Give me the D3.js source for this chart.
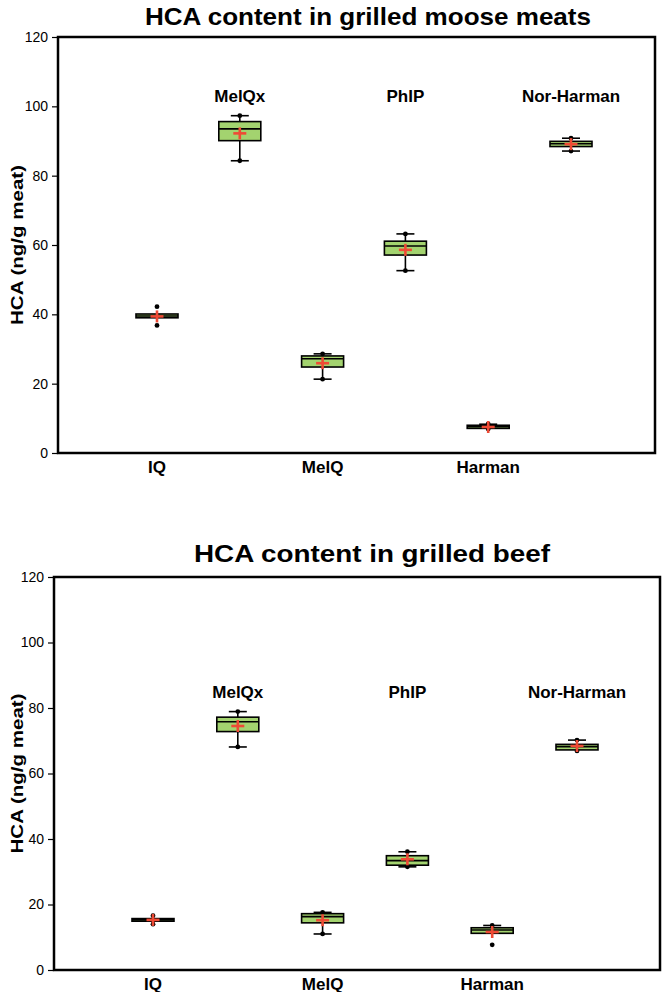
<!DOCTYPE html>
<html><head><meta charset="utf-8">
<script src="https://cdn.jsdelivr.net/npm/d3@7/dist/d3.min.js"></script>
<style>body{margin:0;background:#fff}svg{display:block}text{font-family:"Liberation Sans",Arial,sans-serif}</style>
</head><body><svg id="c" width="664" height="992"></svg>
<script>
// ---- data ----
const categories = ["IQ","MelQx","MelQ","PhIP","Harman","Nor-Harman"];
const labelSide  = ["bottom","top","bottom","top","bottom","top"];
const yTicks = [0,20,40,60,80,100,120];

// moose
const mooseLow    = [39.0, 84.3, 21.3, 52.6, 7.1, 87.1];
const mooseQ1     = [39.0, 90.1, 24.8, 57.1, 7.1, 88.4];
const mooseMedian = [39.5, 93.5, 27.2, 59.7, 7.6, 89.2];
const mooseQ3     = [40.1, 95.6, 28.0, 61.1, 8.0, 89.9];
const mooseHigh   = [40.1, 97.3, 28.6, 63.2, 8.3, 90.8];
const mooseMean   = [39.4, 92.2, 25.9, 58.6, 7.5, 89.1];
const mooseMin    = [36.8, 84.3, 21.3, 52.6, 6.9, 87.1];
const mooseMax    = [42.2, 97.3, 28.6, 63.2, 8.4, 90.8];

// beef
const beefLow    = [14.9, 68.1, 11.0, 31.5, 11.2, 67.2];
const beefQ1     = [14.9, 72.8, 14.4, 32.0, 11.2, 67.2];
const beefMedian = [15.3, 75.8, 16.3, 33.4, 12.2, 68.2];
const beefQ3     = [15.7, 77.2, 17.2, 34.9, 12.9, 68.9];
const beefHigh   = [15.7, 78.9, 17.6, 36.1, 13.6, 70.2];
const beefMean   = [15.3, 74.5, 15.2, 33.8, 11.6, 68.4];
const beefMin    = [14.0, 68.1, 11.0, 31.5, 7.7, 66.9];
const beefMax    = [16.6, 78.9, 17.6, 36.1, 13.6, 70.2];

const titles = ["HCA content in grilled moose meats","HCA content in grilled beef"];
const yLabel = "HCA (ng/g  meat)";

// ---- layout ----
const panels = [
  {title:titles[0], L:58, R:655, T:37, B:453, titleY:25, titleX:368, titleW:446,
   topLabY:102, xr:[157,571],
   low:mooseLow,q1:mooseQ1,med:mooseMedian,q3:mooseQ3,high:mooseHigh,mean:mooseMean,mn:mooseMin,mx:mooseMax},
  {title:titles[1], L:54, R:660, T:577, B:970, titleY:562, titleX:372, titleW:356,
   topLabY:698, xr:[153,577],
   low:beefLow,q1:beefQ1,med:beefMedian,q3:beefQ3,high:beefHigh,mean:beefMean,mn:beefMin,mx:beefMax}
];

const svg = d3.select("#c");
svg.append("rect").attr("width",664).attr("height",992).attr("fill","#fff");

const boxFill = "#a3d36f", meanCol = "#ef4a35";
const boxW = 42, capW = 18;

panels.forEach(p => {
  const g = svg.append("g");
  const x = d3.scalePoint().domain(categories).range(p.xr);
  const y = d3.scaleLinear().domain([0,120]).range([p.B,p.T]);

  // title
  g.append("text").attr("x",p.titleX).attr("y",p.titleY).attr("text-anchor","middle")
    .attr("font-size",24).attr("font-weight","bold")
    .attr("textLength",p.titleW).attr("lengthAdjust","spacingAndGlyphs").text(p.title);

  // y axis
  const ax = g.append("g").attr("transform",`translate(${p.L},0)`)
    .call(d3.axisLeft(y).tickValues(yTicks).tickSize(6).tickPadding(4));
  ax.select(".domain").remove();
  ax.selectAll(".tick line").attr("stroke","#000").attr("stroke-width",1.2);
  ax.selectAll(".tick text").attr("font-size",14).attr("fill","#000")
    .attr("font-family","'Liberation Sans',Arial,sans-serif");

  // frame
  g.append("rect").attr("x",p.L).attr("y",p.T).attr("width",p.R-p.L).attr("height",p.B-p.T)
    .attr("fill","none").attr("stroke","#000").attr("stroke-width",2.5);

  // y label
  g.append("text").attr("transform",`translate(23,${(p.T+p.B)/2}) rotate(-90)`)
    .attr("text-anchor","middle").attr("font-size",17).attr("font-weight","bold")
    .attr("textLength",160).attr("lengthAdjust","spacingAndGlyphs").text(yLabel);

  const rows = categories.map((c,i)=>({c,i,side:labelSide[i],low:p.low[i],q1:p.q1[i],med:p.med[i],
    q3:p.q3[i],high:p.high[i],mean:p.mean[i],mn:p.mn[i],mx:p.mx[i]}));

  // category labels
  g.selectAll(".cl").data(rows).join("text")
    .attr("x",d=>x(d.c)).attr("y",d=>d.side==="top"?p.topLabY:p.B+20)
    .attr("text-anchor","middle").attr("font-size",17).attr("font-weight","bold")
    .text(d=>d.c);

  const b = g.selectAll(".bx").data(rows).join("g");
  // whisker lines
  b.append("line").attr("x1",d=>x(d.c)).attr("x2",d=>x(d.c))
    .attr("y1",d=>y(d.low)).attr("y2",d=>y(d.q1)).attr("stroke","#000").attr("stroke-width",1.6);
  b.append("line").attr("x1",d=>x(d.c)).attr("x2",d=>x(d.c))
    .attr("y1",d=>y(d.high)).attr("y2",d=>y(d.q3)).attr("stroke","#000").attr("stroke-width",1.6);
  // caps
  b.filter(d=>d.low<d.q1).append("line").attr("x1",d=>x(d.c)-capW/2).attr("x2",d=>x(d.c)+capW/2)
    .attr("y1",d=>y(d.low)).attr("y2",d=>y(d.low)).attr("stroke","#000").attr("stroke-width",1.6);
  b.filter(d=>d.high>d.q3).append("line").attr("x1",d=>x(d.c)-capW/2).attr("x2",d=>x(d.c)+capW/2)
    .attr("y1",d=>y(d.high)).attr("y2",d=>y(d.high)).attr("stroke","#000").attr("stroke-width",1.6);
  // box
  b.append("rect").attr("x",d=>x(d.c)-boxW/2).attr("width",boxW)
    .attr("y",d=>y(d.q3)).attr("height",d=>Math.max(0.5,y(d.q1)-y(d.q3)))
    .attr("fill",boxFill).attr("stroke","#000").attr("stroke-width",1.6);
  // median
  b.append("line").attr("x1",d=>x(d.c)-boxW/2).attr("x2",d=>x(d.c)+boxW/2)
    .attr("y1",d=>y(d.med)).attr("y2",d=>y(d.med)).attr("stroke","#000").attr("stroke-width",1.6);
  // min / max points
  b.append("circle").attr("cx",d=>x(d.c)).attr("cy",d=>y(d.mn)).attr("r",2.4).attr("fill","#000");
  b.append("circle").attr("cx",d=>x(d.c)).attr("cy",d=>y(d.mx)).attr("r",2.4).attr("fill","#000");
  // mean cross
  b.append("line").attr("x1",d=>x(d.c)-6.5).attr("x2",d=>x(d.c)+6.5)
    .attr("y1",d=>y(d.mean)).attr("y2",d=>y(d.mean)).attr("stroke",meanCol).attr("stroke-width",2.6);
  b.append("line").attr("x1",d=>x(d.c)).attr("x2",d=>x(d.c))
    .attr("y1",d=>y(d.mean)-6).attr("y2",d=>y(d.mean)+6).attr("stroke",meanCol).attr("stroke-width",2.6);
});
</script></body></html>
